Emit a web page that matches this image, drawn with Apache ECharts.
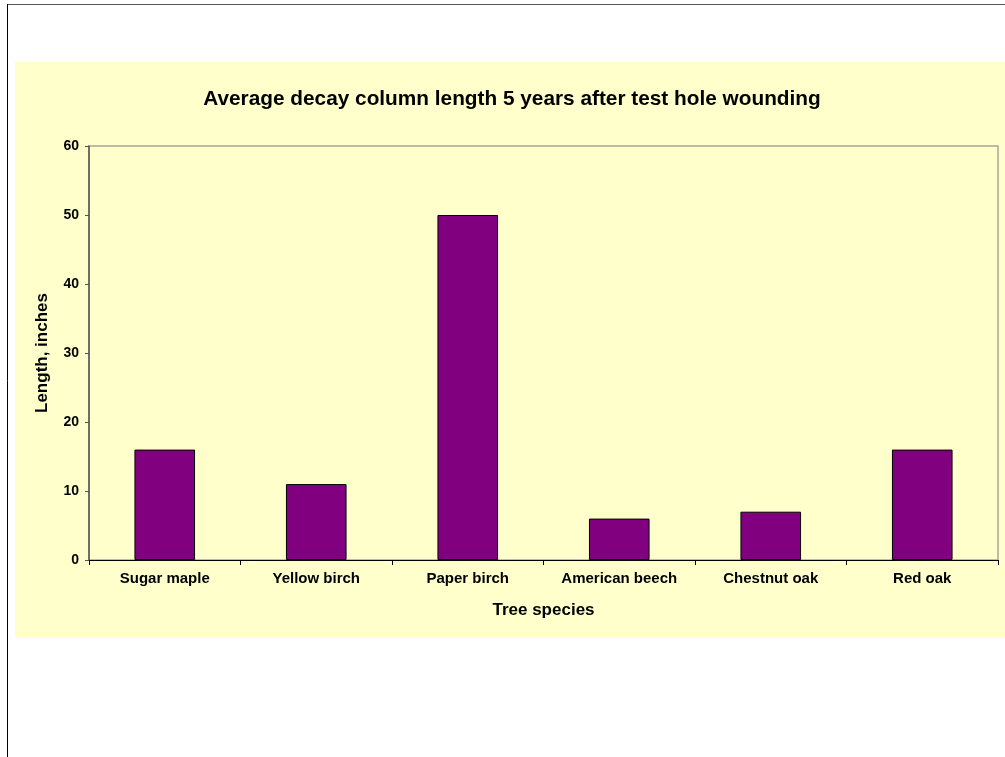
<!DOCTYPE html>
<html>
<head>
<meta charset="utf-8">
<script src="https://cdn.jsdelivr.net/npm/echarts@6/dist/echarts.min.js"></script>
<style>
  html, body { margin: 0; padding: 0; background: #ffffff; }
  #chart { width: 1005px; height: 757px; }
</style>
</head>
<body>
<div id="chart"></div>
<script>
const titleText = 'Average decay column length 5 years after test hole wounding';
const categories = ['Sugar maple', 'Yellow birch', 'Paper birch', 'American beech', 'Chestnut oak', 'Red oak'];
const decayLength = [16, 11, 50, 6, 7, 16];
const xAxisName = 'Tree species';
const yAxisName = 'Length, inches';

const FONT = '"Liberation Sans", Arial, sans-serif';
const chart = echarts.init(document.getElementById('chart'), null, { renderer: 'canvas' });

chart.setOption({
  animation: false,
  backgroundColor: '#ffffff',
  graphic: [
    { type: 'rect', z: -10, silent: true, shape: { x: 15, y: 62, width: 990, height: 576 }, style: { fill: '#FFFFCC' } },
    { type: 'line', z: 10, silent: true, shape: { x1: 7, y1: 4.5, x2: 1005, y2: 4.5 }, style: { stroke: '#555555', lineWidth: 1 } },
    { type: 'line', z: 10, silent: true, shape: { x1: 7.5, y1: 4, x2: 7.5, y2: 757 }, style: { stroke: '#000000', lineWidth: 1 } }
  ],
  title: {
    text: titleText,
    left: 507,
    textAlign: 'center',
    top: 84,
    textStyle: { fontFamily: FONT, fontSize: 20.8, fontWeight: 'bold', color: '#000000' }
  },
  grid: {
    left: 89, right: 7, top: 146, bottom: 197,
    show: true,
    backgroundColor: 'transparent',
    borderColor: '#A8A898',
    borderWidth: 1.5
  },
  xAxis: {
    type: 'category',
    data: categories,
    name: xAxisName,
    nameLocation: 'middle',
    nameGap: 42,
    nameTextStyle: { fontFamily: FONT, fontSize: 17, fontWeight: 'bold', color: '#000000' },
    axisLine: { lineStyle: { color: '#000000', width: 1 } },
    axisTick: { show: true, length: 5, inside: false, lineStyle: { color: '#000000' } },
    axisLabel: { fontFamily: FONT, fontSize: 15, fontWeight: 'bold', color: '#000000', margin: 11, interval: 0 },
    splitLine: { show: false }
  },
  yAxis: {
    type: 'value',
    min: 0, max: 60, interval: 10,
    name: yAxisName,
    nameLocation: 'middle',
    nameGap: 38,
    nameRotate: 90,
    nameTextStyle: { fontFamily: FONT, fontSize: 17, fontWeight: 'bold', color: '#000000' },
    axisLine: { show: true, lineStyle: { color: '#555555', width: 1.5 } },
    axisTick: { show: true, length: 4, lineStyle: { color: '#555555' } },
    axisLabel: { fontFamily: FONT, fontSize: 14, fontWeight: 'bold', color: '#000000', margin: 10 },
    splitLine: { show: false }
  },
  series: [{
    type: 'bar',
    data: decayLength,
    barWidth: '40%',
    itemStyle: { color: '#800080', borderColor: '#000000', borderWidth: 1 }
  }]
});
</script>
</body>
</html>
